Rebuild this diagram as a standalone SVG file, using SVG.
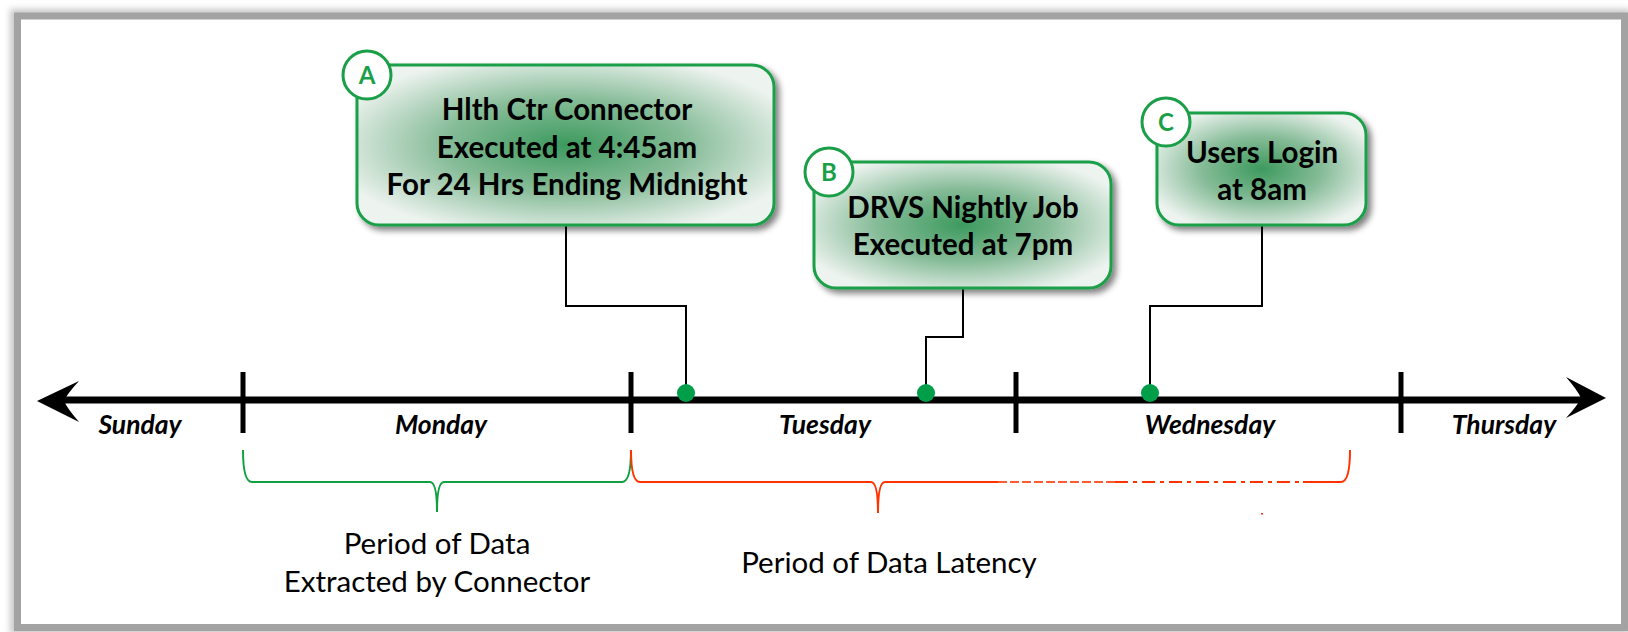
<svg xmlns="http://www.w3.org/2000/svg" width="1628" height="632" viewBox="0 0 1628 632">
<defs>
<style>
.box{stroke:#1a9f48;stroke-width:3;fill:url(#gfill)}
.badge{fill:#fff;stroke:#1a9f48;stroke-width:3}
.badgeT{font-family:Lato,"Open Sans",sans-serif;font-weight:700;font-size:24px;fill:#1a9f48;text-anchor:middle}
.bt{font-family:Lato,"Open Sans",sans-serif;font-weight:700;font-size:29.5px;fill:#000;text-anchor:middle}
.day{font-family:Lato,"Open Sans",sans-serif;font-weight:700;font-style:italic;font-size:26.5px;fill:#000;text-anchor:middle}
.lbl{font-family:Lato,"Open Sans",sans-serif;font-size:29.5px;fill:#000;text-anchor:middle}
.conn{fill:none;stroke:#000;stroke-width:2}
.dot{fill:#009e49}
.tick{stroke:#000;stroke-width:5}
</style>
<radialGradient id="gfill" cx="0.5" cy="0.5" r="0.58">
<stop offset="0" stop-color="#3d9a5e"/>
<stop offset="0.5" stop-color="#86bc98"/>
<stop offset="1" stop-color="#edf3ef"/>
</radialGradient>
<filter id="shadow" x="-10%" y="-10%" width="125%" height="130%">
<feGaussianBlur in="SourceAlpha" stdDeviation="3"/>
<feOffset dx="4" dy="4" result="b"/>
<feComponentTransfer><feFuncA type="linear" slope="0.5"/></feComponentTransfer>
<feMerge><feMergeNode/><feMergeNode in="SourceGraphic"/></feMerge>
</filter>
<filter id="blur3"><feGaussianBlur stdDeviation="3"/></filter>
</defs>
<rect width="1628" height="632" fill="#fff"/>
<g id="frame">
<rect x="15" y="14" width="1610" height="615" fill="none" stroke="#c8c8c8" stroke-width="10" filter="url(#blur3)"/>
<rect x="17.5" y="16" width="1607" height="611.5" fill="#fff" stroke="#a3a3a3" stroke-width="7"/>
</g>
<g id="timeline">
<line x1="60" y1="400" x2="1585" y2="400" stroke="#000" stroke-width="7"/>
<path d="M37,401 L79,381 Q67,394 64,401 Q67,408 79,422 Z" fill="#000"/>
<path d="M1606,398 L1566,377 Q1578,391 1581,398 Q1578,405 1566,418 Z" fill="#000"/>
<line class="tick" x1="243" y1="372" x2="243" y2="433"/>
<line class="tick" x1="631" y1="372" x2="631" y2="433"/>
<line class="tick" x1="1016" y1="372" x2="1016" y2="433"/>
<line class="tick" x1="1401" y1="372" x2="1401" y2="433"/>
<text class="day" x="140" y="434">Sunday</text>
<text class="day" x="441" y="434">Monday</text>
<text class="day" x="825" y="434">Tuesday</text>
<text class="day" x="1210" y="434">Wednesday</text>
<text class="day" x="1504" y="434">Thursday</text>
</g>
<g id="connectors">
<path class="conn" d="M566,225 V306 H686 V393"/>
<path class="conn" d="M963,289 V337 H926 V393"/>
<path class="conn" d="M1262,226 V306 H1150 V393"/>
<circle class="dot" cx="686" cy="393" r="9"/>
<circle class="dot" cx="926" cy="393" r="9"/>
<circle class="dot" cx="1150" cy="393" r="9"/>
</g>
<g id="nodeA">
<rect class="box" x="357" y="65" width="417" height="160" rx="22" filter="url(#shadow)"/>
<circle class="badge" cx="367" cy="75" r="24"/>
<text class="badgeT" x="367" y="84">A</text>
<text class="bt" x="567" y="120">Hlth Ctr Connector</text>
<text class="bt" x="567" y="158">Executed at 4:45am</text>
<text class="bt" x="567" y="195">For 24 Hrs Ending Midnight</text>
</g>
<g id="nodeB">
<rect class="box" x="814" y="162" width="297" height="126" rx="22" filter="url(#shadow)"/>
<circle class="badge" cx="829" cy="172" r="24"/>
<text class="badgeT" x="829" y="181">B</text>
<text class="bt" x="963" y="218">DRVS Nightly Job</text>
<text class="bt" x="963" y="255">Executed at 7pm</text>
</g>
<g id="nodeC">
<rect class="box" x="1157" y="113" width="209" height="112" rx="22" filter="url(#shadow)"/>
<circle class="badge" cx="1166" cy="122" r="24"/>
<text class="badgeT" x="1166" y="131">C</text>
<text class="bt" x="1262" y="163">Users Login</text>
<text class="bt" x="1262" y="200">at 8am</text>
</g>
<g id="brackets">
<path d="M243,450 Q243,482 252,482 H430 Q437,482 437,512 Q437,482 444,482 H622 Q631,482 631,450" fill="none" stroke="#10a040" stroke-width="2"/>
<path d="M631,450 Q631,482 640,482 H871 Q878,482 878,513 Q878,482 885,482 H998" fill="none" stroke="#ff3300" stroke-width="2"/>
<line x1="998" y1="482" x2="1115" y2="482" stroke="#ff3300" stroke-opacity="0.8" stroke-width="2" stroke-dasharray="9 3"/>
<line x1="1115" y1="482" x2="1303" y2="482" stroke="#ff3300" stroke-width="2" stroke-dasharray="13 5 4 5"/>
<path d="M1303,482 H1341 Q1350,482 1350,450" fill="none" stroke="#ff3300" stroke-width="2"/>
<rect x="1261" y="513" width="2" height="1.5" fill="#ff3300"/>
<text class="lbl" x="437" y="554">Period of Data</text>
<text class="lbl" x="437" y="592">Extracted by Connector</text>
<text class="lbl" x="889" y="573">Period of Data Latency</text>
</g>
</svg>
